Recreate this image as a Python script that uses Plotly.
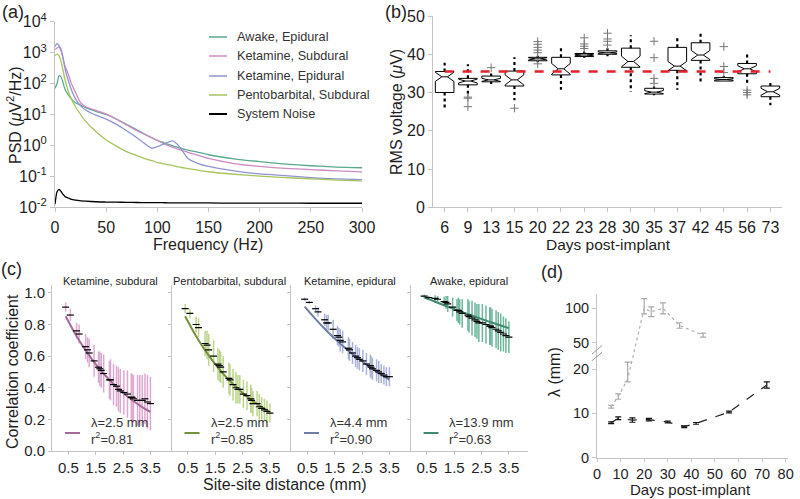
import plotly.graph_objects as go

W, H = 800, 499
FONT = "Liberation Sans, Arial, Helvetica, sans-serif"
AX = "#c4c4c4"
TXT = "#1e1e1e"

# ---------------- Panel (a): PSD ----------------
freq_hz = [0, 2, 4, 6, 8, 10, 13, 16, 20, 25, 30, 40, 50, 60, 70, 80, 90, 95, 100, 105,
           110, 115, 120, 125, 130, 140, 150, 175, 200, 225, 250, 275, 300]
psd_awake_epi = [70, 100, 180, 160, 100, 63, 43, 32, 24, 20, 16.6, 12.6, 10, 7.1, 4.8, 3.2, 2.1, 1.75,
                 1.45, 1.27, 1.1, 0.97, 0.87, 0.78, 0.7, 0.6, 0.5, 0.37, 0.3, 0.25, 0.22, 0.2, 0.19]
psd_ket_sub = [1260, 1410, 1510, 1120, 630, 355, 200, 100, 52, 24, 17.8, 13.5, 10.5, 7.1, 4.6, 3.0, 2.1,
               1.74, 1.45, 1.2, 1.0, 0.87, 0.76, 0.68, 0.6, 0.48, 0.38, 0.26, 0.21, 0.18, 0.166, 0.15, 0.14]
psd_ket_epi = [1580, 2000, 1660, 1260, 630, 280, 126, 63, 32, 19, 14, 9.5, 7.1, 4.8, 3.0, 1.78, 1.0, 0.81,
               0.91, 1.07, 1.26, 1.41, 1.05, 0.63, 0.38, 0.26, 0.21, 0.15, 0.12, 0.105, 0.091, 0.083, 0.079]
psd_pento_sub = [790, 890, 790, 500, 250, 126, 56, 32, 17.8, 10, 6.0, 2.8, 1.5, 0.95, 0.63, 0.47, 0.355,
                 0.32, 0.28, 0.26, 0.24, 0.224, 0.204, 0.19, 0.178, 0.158, 0.141, 0.117, 0.102, 0.091,
                 0.083, 0.076, 0.071]
psd_noise = [0.0126, 0.032, 0.038, 0.032, 0.026, 0.022, 0.02, 0.018, 0.017, 0.0162, 0.0158, 0.0151,
             0.0148, 0.0146, 0.0145, 0.0143, 0.0142, 0.0142, 0.0141, 0.0141, 0.014, 0.014, 0.014,
             0.0139, 0.0139, 0.0139, 0.0138, 0.0137, 0.0136, 0.0136, 0.0135, 0.0135, 0.0135]
psd_names = ["Awake, Epidural", "Ketamine, Subdural", "Ketamine, Epidural",
             "Pentobarbital, Subdural", "System Noise"]
psd_colors = ["#5aa98e", "#cc8cc3", "#8f95cf", "#a6c35f", "#000000"]

# ---------------- Panel (b): RMS boxes ----------------
days_b = ["6", "9", "13", "15", "20", "22", "23", "28", "30", "35", "37", "42", "45", "56", "73"]
box_q1 = [30.0, 32.0, 32.8, 31.7, 38.3, 34.6, 39.4, 40.0, 36.6, 29.6, 35.8, 38.4, 33.0, 34.9, 28.9]
box_med = [34.1, 33.0, 33.3, 33.3, 38.8, 36.2, 39.8, 40.4, 38.1, 30.1, 36.9, 39.8, 33.4, 36.2, 30.2]
box_q3 = [35.5, 33.7, 34.3, 35.6, 39.2, 39.2, 40.2, 40.9, 41.6, 31.1, 41.8, 43.0, 33.9, 37.6, 31.7]
box_notch = [1.2, 0.5, 0.4, 1.3, 0.3, 1.4, 0.2, 0.2, 1.4, 0.4, 1.2, 1.2, 0.2, 0.8, 0.9]
whisk_lo = [25.5, 28.9, 32.2, 28.0, 37.9, 30.7, 39.1, 39.5, 30.2, 29.3, 30.7, 32.4, 33.0, 32.5, 26.7]
whisk_hi = [37.8, 37.4, 35.0, 39.2, 39.6, 41.7, 40.7, 41.6, 45.0, 31.6, 44.8, 45.9, 34.3, 40.7, 32.8]
outlier_day = ["9", "9", "9", "13", "15", "20", "20", "20", "20", "20", "20", "23", "23", "23", "23",
               "28", "28", "28", "28", "35", "35", "35", "35", "45", "45", "45", "56", "56", "56"]
outlier_val = [28.5, 28.8, 26.3, 36.5, 25.9, 40.4, 41.1, 41.8, 42.6, 43.3, 37.5, 41.5, 42.1, 42.7, 44.3,
               42.4, 43.4, 44.0, 45.5, 32.4, 33.7, 39.1, 43.4, 35.2, 36.8, 42.0, 29.4, 30.0, 30.6]
rms_ref = 35.5

# ---------------- Panel (c): correlation vs distance ----------------
dist_mm = [0.40, 0.57, 0.80, 0.89, 1.13, 1.20, 1.26, 1.44, 1.60, 1.65, 1.70, 1.79, 2.00, 2.04, 2.15,
           2.26, 2.33, 2.40, 2.53, 2.66, 2.80, 2.83, 2.88, 3.03, 3.11, 3.20, 3.30, 3.39, 3.50]
c_titles = ["Ketamine, subdural", "Pentobarbital, subdural", "Ketamine, epidural", "Awake, epidural"]
mean_ket_sub = [0.91, 0.86, 0.76, 0.74, 0.66, 0.64, 0.62, 0.57, 0.53, 0.52, 0.51, 0.49, 0.45, 0.45, 0.42,
                0.41, 0.39, 0.38, 0.37, 0.36, 0.34, 0.34, 0.33, 0.32, 0.32, 0.32, 0.33, 0.31, 0.30]
err_ket_sub = [0.03, 0.04, 0.05, 0.06, 0.08, 0.08, 0.09, 0.10, 0.10, 0.11, 0.11, 0.12, 0.12, 0.13, 0.13,
               0.13, 0.14, 0.14, 0.14, 0.15, 0.15, 0.15, 0.15, 0.16, 0.16, 0.16, 0.16, 0.17, 0.17]
mean_pento_sub = [0.90, 0.87, 0.80, 0.78, 0.68, 0.67, 0.64, 0.60, 0.55, 0.54, 0.53, 0.50, 0.46, 0.45, 0.42,
                  0.40, 0.39, 0.39, 0.36, 0.35, 0.33, 0.32, 0.30, 0.30, 0.28, 0.27, 0.26, 0.25, 0.24]
err_pento_sub = [0.03, 0.03, 0.05, 0.06, 0.08, 0.09, 0.10, 0.10, 0.10, 0.10, 0.10, 0.10, 0.10, 0.10, 0.10,
                 0.10, 0.09, 0.09, 0.09, 0.09, 0.09, 0.08, 0.08, 0.08, 0.08, 0.07, 0.07, 0.07, 0.06]
mean_ket_epi = [0.96, 0.94, 0.90, 0.88, 0.83, 0.81, 0.81, 0.77, 0.73, 0.72, 0.70, 0.69, 0.65, 0.64, 0.62,
                0.60, 0.59, 0.58, 0.57, 0.55, 0.54, 0.53, 0.52, 0.51, 0.50, 0.49, 0.48, 0.47, 0.47]
err_ket_epi = [0.01, 0.01, 0.02, 0.03, 0.04, 0.05, 0.05, 0.06, 0.06, 0.06, 0.07, 0.07, 0.07, 0.07, 0.07,
               0.07, 0.07, 0.07, 0.07, 0.07, 0.07, 0.07, 0.07, 0.07, 0.07, 0.06, 0.06, 0.06, 0.06]
mean_awake_epi = [0.98, 0.97, 0.965, 0.96, 0.945, 0.94, 0.93, 0.91, 0.89, 0.89, 0.88, 0.87, 0.86, 0.85,
                  0.84, 0.83, 0.82, 0.81, 0.81, 0.80, 0.79, 0.79, 0.78, 0.77, 0.76, 0.75, 0.74, 0.73, 0.72]
err_awake_epi = [0.01, 0.01, 0.02, 0.02, 0.03, 0.04, 0.05, 0.06, 0.07, 0.08, 0.08, 0.09, 0.10, 0.10, 0.11,
                 0.11, 0.11, 0.12, 0.12, 0.12, 0.12, 0.12, 0.12, 0.12, 0.12, 0.12, 0.11, 0.11, 0.10]
fit_d = [0.4, 0.8, 1.2, 1.6, 2.0, 2.4, 2.8, 3.2, 3.5]
fit_ket_sub = [0.852, 0.726, 0.619, 0.527, 0.449, 0.383, 0.326, 0.278, 0.247]
fit_pento_sub = [0.852, 0.726, 0.619, 0.527, 0.449, 0.383, 0.326, 0.278, 0.247]
fit_ket_epi = [0.913, 0.834, 0.761, 0.695, 0.635, 0.580, 0.529, 0.483, 0.451]
fit_awake_epi = [0.972, 0.944, 0.917, 0.891, 0.866, 0.841, 0.817, 0.794, 0.777]
lam_text = ["λ=2.5 mm", "λ=2.5 mm", "λ=4.4 mm", "λ=13.9 mm"]
r2_text = ["0.81", "0.85", "0.90", "0.63"]

# ---------------- Panel (d): lambda vs days ----------------
grey_days = [6, 9, 13, 20, 23, 28, 35, 45]
grey_lam = [11.5, 13.8, 17.7, 100, 95, 100, 75, 61]
grey_err_hi = [0.3, 0.6, 4.0, 14, 7, 8, 4, 3]
grey_err_lo = [0.3, 0.6, 0.6, 8, 7, 8, 4, 3]
black_days = [6, 9, 15, 22, 30, 37, 42, 56, 72]
black_lam = [7.9, 8.9, 8.5, 8.6, 8.05, 7.0, 7.75, 10.3, 16.4]
black_err = [0.2, 0.3, 0.5, 0.3, 0.2, 0.2, 0.2, 0.2, 0.7]
d_ticks = [0, 10, 20, 50, 100]


def brk(v):
    """Broken-axis scale: linear below the break, compressed above it."""
    return v if v <= 21.5 else 25.96 + (v - 50) * 0.1553


def xd(a, b):
    return [a / W, b / W]


def yd(top, bottom):
    return [1 - bottom / H, 1 - top / H]


def px(x):
    return x / W


def py(y):
    return 1 - y / H


fig = go.Figure()

# ---- (a)
psd_series = [psd_awake_epi, psd_ket_sub, psd_ket_epi, psd_pento_sub, psd_noise]
for name, vals, col in zip(psd_names, psd_series, psd_colors):
    fig.add_trace(go.Scatter(x=freq_hz, y=vals, mode="lines", name=name,
                             line=dict(color=col, width=1.3, shape="spline", smoothing=0.6),
                             xaxis="x", yaxis="y"))

# ---- (b)
wx, wy = [], []
for d, q1, q3, lo, hi in zip(days_b, box_q1, box_q3, whisk_lo, whisk_hi):
    wx += [d, d, None, d, d, None]
    wy += [q3, hi, None, q1, lo, None]
fig.add_trace(go.Scatter(x=wx, y=wy, mode="lines", line=dict(color="black", width=2.2, dash="dot"),
                         xaxis="x2", yaxis="y2", connectgaps=False))
fig.add_trace(go.Box(x=days_b, q1=box_q1, median=box_med, q3=box_q3, lowerfence=box_q1,
                     upperfence=box_q3, notchspan=box_notch, notched=True, notchwidth=0.35,
                     fillcolor="white", line=dict(color="black", width=1), whiskerwidth=0,
                     boxpoints=False, xaxis="x2", yaxis="y2"))
fig.add_trace(go.Scatter(x=outlier_day, y=outlier_val, mode="markers",
                         marker=dict(symbol="cross-thin", size=6, line=dict(color="#777777", width=1)),
                         xaxis="x2", yaxis="y2"))
fig.add_trace(go.Scatter(x=[days_b[0], days_b[-1]], y=[rms_ref, rms_ref], mode="lines",
                         line=dict(color="#e3222b", width=2.5, dash="dash"), xaxis="x2", yaxis="y2"))

# ---- (c)
c_means = [mean_ket_sub, mean_pento_sub, mean_ket_epi, mean_awake_epi]
c_errs = [err_ket_sub, err_pento_sub, err_ket_epi, err_awake_epi]
c_fits = [fit_ket_sub, fit_pento_sub, fit_ket_epi, fit_awake_epi]
c_bar_col = ["#dda8d0", "#bcd58a", "#a9b3d9", "#6db59b"]
c_fit_col = ["#a56b98", "#76913e", "#6f7ca6", "#3f8a70"]
c_left = [52, 171.5, 291, 410.5]
c_w = 117
for i in range(4):
    xa, ya = f"x{i+3}", f"y{i+3}"
    fig.add_trace(go.Scatter(x=dist_mm, y=c_means[i], mode="markers",
                             marker=dict(size=1, color="rgba(0,0,0,0)"),
                             error_y=dict(type="data", array=c_errs[i], color=c_bar_col[i],
                                          thickness=1.5, width=0),
                             xaxis=xa, yaxis=ya))
    fig.add_trace(go.Scatter(x=fit_d, y=c_fits[i], mode="lines",
                             line=dict(color=c_fit_col[i], width=2, shape="spline"),
                             xaxis=xa, yaxis=ya))
    fig.add_trace(go.Scatter(x=dist_mm, y=c_means[i], mode="markers",
                             marker=dict(symbol="line-ew", size=5, line=dict(color="black", width=1.2)),
                             xaxis=xa, yaxis=ya))

# ---- (d)
def err_hi(vals, errs):
    return [brk(v + e) - brk(v) for v, e in zip(vals, errs)]


def err_lo(vals, errs):
    return [brk(v) - brk(v - e) for v, e in zip(vals, errs)]


fig.add_trace(go.Scatter(x=grey_days, y=[brk(v) for v in grey_lam], mode="lines",
                         line=dict(color="#b0b0b0", width=1.2, dash="dot"),
                         error_y=dict(type="data", symmetric=False, array=err_hi(grey_lam, grey_err_hi),
                                      arrayminus=err_lo(grey_lam, grey_err_lo), color="#a8a8a8",
                                      thickness=1.2, width=3),
                         xaxis="x7", yaxis="y7"))
fig.add_trace(go.Scatter(x=black_days, y=[brk(v) for v in black_lam], mode="lines",
                         line=dict(color="#222222", width=1.2, dash="dash"),
                         error_y=dict(type="data", array=err_hi(black_lam, black_err), color="#111111",
                                      thickness=1.2, width=3),
                         xaxis="x7", yaxis="y7"))

# ---------------- axes ----------------
base = dict(showline=True, linecolor=AX, linewidth=1, ticks="outside", ticklen=4, tickcolor=AX,
            showgrid=False, zeroline=False, tickfont=dict(family=FONT, size=15, color=TXT))
big = dict(family=FONT, size=16, color=TXT)
mid = dict(family=FONT, size=14.5, color=TXT)

fig.update_layout(
    xaxis=dict(base, domain=xd(55, 362), range=[0, 300], tickvals=[0, 50, 100, 150, 200, 250, 300],
               anchor="y", tickfont=big, ticklabelstandoff=1),
    yaxis=dict(base, domain=yd(21.7, 207.3), type="log", range=[-2, 4],
               tickvals=[1e-2, 1e-1, 1, 10, 100, 1000, 1e4],
               ticktext=["10<sup>-2</sup>", "10<sup>-1</sup>", "10<sup>0</sup>", "10<sup>1</sup>",
                         "10<sup>2</sup>", "10<sup>3</sup>", "10<sup>4</sup>"], anchor="x", tickfont=big),
    xaxis2=dict(base, domain=xd(433, 782), type="category", categoryorder="array",
                categoryarray=days_b, range=[-0.5, 14.5], anchor="y2", tickfont=big, ticklabelstandoff=1),
    yaxis2=dict(base, domain=yd(16, 207.3), range=[0, 50], tickvals=[0, 10, 20, 30, 40, 50],
                anchor="x2", tickfont=big),
    xaxis7=dict(base, domain=xd(597, 788), range=[0, 81], tickvals=[0, 10, 20, 30, 40, 50, 60, 70, 80],
                anchor="y7", tickfont=mid, ticklen=3),
    yaxis7=dict(base, domain=yd(293.8, 457.7), range=[0, 37], tickvals=[brk(v) for v in d_ticks],
                ticktext=[str(v) for v in d_ticks], anchor="x7", tickfont=mid),
)
for i in range(4):
    fig.layout[f"xaxis{i+3}"] = dict(base, domain=xd(c_left[i], c_left[i] + c_w), range=[-0.1, 4.18],
                                     tickvals=[0.5, 1.5, 2.5, 3.5], ticktext=["0.5", "1.5", "2.5", "3.5"],
                                     anchor=f"y{i+3}", ticklen=3)
    fig.layout[f"yaxis{i+3}"] = dict(base, domain=yd(285, 451), range=[0, 1.05],
                                     tickvals=[0, 0.2, 0.4, 0.6, 0.8, 1.0], tickformat=".1f",
                                     showticklabels=(i == 0), anchor=f"x{i+3}", ticklen=3)

# ---------------- annotations / decorations ----------------
ann = []
shapes = []


def text(x, y, s, size, angle=0, xanchor="center", color=TXT):
    ann.append(dict(x=px(x), y=py(y), xref="paper", yref="paper", text=s, showarrow=False,
                    textangle=angle, xanchor=xanchor, yanchor="middle", align="left",
                    font=dict(family=FONT, size=size, color=color)))


# panel labels
text(13, 12, "(a)", 18)
text(396, 12, "(b)", 18)
text(11, 269, "(c)", 18)
text(552, 272, "(d)", 18)
# axis titles
text(14, 115, "PSD (<i>μ</i>V<sup>2</sup>/Hz)", 16, -90)
text(208, 244, "Frequency (Hz)", 16)
text(396, 112, "RMS voltage (<i>μ</i>V)", 16, -90)
text(608, 244, "Days post-implant", 15.5)
text(12, 372, "Correlation coefficient", 16, -90)
text(285, 484, "Site-site distance (mm)", 16)
text(554, 372, "λ (mm)", 16, -90)
text(690, 489, "Days post-implant", 15)

# legend for (a)
leg_y = [37, 56, 76, 95, 114]
for name, col, yy in zip(psd_names, psd_colors, leg_y):
    shapes.append(dict(type="line", xref="paper", yref="paper", x0=px(209), x1=px(227), y0=py(yy),
                       y1=py(yy), line=dict(color=col, width=2 if col == "#000000" else 1.5)))
    text(235, yy, name, 12.7, xanchor="left", color="#333333")

# panel (c) titles and fit legends
for i in range(4):
    cx = c_left[i] + c_w / 2
    text(cx, 281, c_titles[i], 11)
    shapes.append(dict(type="line", xref="paper", yref="paper", x0=px(c_left[i] + 13),
                       x1=px(c_left[i] + 28), y0=py(433), y1=py(433),
                       line=dict(color=c_fit_col[i], width=2)))
    text(c_left[i] + 37, 431, lam_text[i] + "<br>r<sup>2</sup>=" + r2_text[i], 13, xanchor="left",
         color="#333333")

# broken-axis marks for (d)
for y0, y1 in [(21.9, 23.8), (23.4, 25.3)]:
    shapes.append(dict(type="line", xref="paper", yref="y7", x0=px(592), x1=px(602), y0=y0, y1=y1,
                       line=dict(color="#999999", width=1)))

fig.update_layout(
    width=W, height=H, margin=dict(l=0, r=0, t=0, b=0, autoexpand=False), showlegend=False,
    paper_bgcolor="white", plot_bgcolor="white", boxgap=0.2, boxgroupgap=0,
    annotations=ann, shapes=shapes, font=dict(family=FONT, color=TXT), hovermode=False,
)

fig.write_html("out.html", config={"displayModeBar": False},
               post_script="document.body.style.margin='0px';document.body.style.overflow='hidden';")
